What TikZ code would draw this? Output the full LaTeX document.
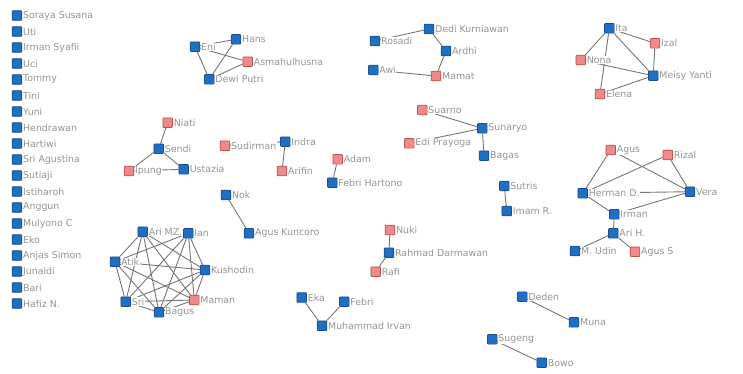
\documentclass[tikz,border=0pt]{standalone}
\usepackage{fontspec}
\setmainfont{DejaVu Sans}
\definecolor{nblue}{HTML}{1F6FC4}
\definecolor{nbluedk}{HTML}{1A4E8C}
\definecolor{npink}{HTML}{F08A8A}
\definecolor{npinkdk}{HTML}{B85252}
\definecolor{txtgray}{HTML}{949494}
\definecolor{edgegray}{HTML}{767676}
\pgfdeclarelayer{background}
\pgfsetlayers{background,main}
\tikzset{
  bnode/.style={rectangle, draw=nbluedk, fill=nblue, minimum size=9.6pt, inner sep=0pt, line width=0.7pt, rounded corners=0.8pt},
  pnode/.style={rectangle, draw=npinkdk, fill=npink, minimum size=9.6pt, inner sep=0pt, line width=0.7pt, rounded corners=0.8pt},
  lbl/.style={font=\fontsize{9.4}{10}\selectfont, text=txtgray, fill=white, inner sep=0.6pt, label distance=0.2pt},
  link/.style={draw=edgegray, line width=0.9pt},
}
% blue / pink member with its name to the right
\newcommand\bmem[3]{\node[bnode, label={[lbl]right:#3}] (#1) at (#2) {};}
\newcommand\pmem[3]{\node[pnode, label={[lbl]right:#3}] (#1) at (#2) {};}
\begin{document}
\begin{tikzpicture}[x=1pt, y=-1pt]
\useasboundingbox (0,0) rectangle (743,373);

% isolated members
\bmem{soraya}{17,15.5}{Soraya Susana}
\bmem{uti}{17,31.5}{Uti}
\bmem{irmans}{17,47.5}{Irman Syafii}
\bmem{uci}{17,63.5}{Uci}
\bmem{tommy}{17,79.5}{Tommy}
\bmem{tini}{17,95.5}{Tini}
\bmem{yuni}{17,111.5}{Yuni}
\bmem{hendrawan}{17,127.5}{Hendrawan}
\bmem{hartiwi}{17,143.5}{Hartiwi}
\bmem{sriag}{17,159.5}{Sri Agustina}
\bmem{sutiaji}{17,175.5}{Sutiaji}
\bmem{istiharoh}{17,191.5}{Istiharoh}
\bmem{anggun}{17,207.5}{Anggun}
\bmem{mulyono}{17,223.5}{Mulyono C}
\bmem{eko}{17,239.5}{Eko}
\bmem{anjas}{17,255.5}{Anjas Simon}
\bmem{junaidi}{17,271.5}{Junaidi}
\bmem{bari}{17,287.5}{Bari}
\bmem{hafiz}{17,303.5}{Hafiz N.}

% group: Eni
\bmem{eni}{195,46.7}{Eni}
\bmem{hans}{236,39.3}{Hans}
\pmem{asma}{247.7,61.7}{Asmahulhusna}
\bmem{dewi}{209.3,79.3}{Dewi Putri}

% group: Dedi
\bmem{dedi}{429,29}{Dedi Kurniawan}
\bmem{rosadi}{375,41}{Rosadi}
\bmem{ardhi}{446,51}{Ardhi}
\bmem{awi}{373.3,70}{Awi}
\pmem{mamat}{436,76}{Mamat}

% group: Ita
\bmem{ita}{609.3,28.3}{Ita}
\pmem{izal}{655,43.3}{Izal}
\pmem{nona}{580.7,60}{Nona}
\bmem{meisy}{653.3,75.7}{Meisy Yanti}
\pmem{elena}{600,94}{Elena}

% group: Sendi
\pmem{niati}{167.7,122.7}{Niati}
\bmem{sendi}{158.7,148.7}{Sendi}
\pmem{ipung}{129,171}{Ipung}
\bmem{ustazia}{183.7,169.3}{Ustazia}

% pairs and small groups
\pmem{sudirman}{225,145.7}{Sudirman}
\bmem{indra}{285.3,141.7}{Indra}
\pmem{arifin}{282,171}{Arifin}
\pmem{adam}{337.7,159.3}{Adam}
\bmem{febrih}{332.3,182.7}{Febri Hartono}
\bmem{nok}{226,195}{Nok}
\bmem{aguskun}{249,233.3}{Agus Kuncoro}

% group: Sunaryo
\pmem{suarno}{422.3,110}{Suarno}
\bmem{sunaryo}{482.3,128.3}{Sunaryo}
\pmem{edi}{409.3,143.3}{Edi Prayoga}
\bmem{bagas}{484,155.7}{Bagas}
\bmem{sutris}{504.3,186}{Sutris}
\bmem{imam}{506.7,211}{Imam R.}

% group: Vera
\pmem{agus}{610.7,150}{Agus}
\pmem{rizal}{667.7,155}{Rizal}
\bmem{herman}{582.7,193.3}{Herman D.}
\bmem{vera}{690,191.7}{Vera}
\bmem{irman}{614.3,214.3}{Irman}
\bmem{arih}{613.3,233.3}{Ari H.}
\bmem{mudin}{575,251}{M. Udin}
\pmem{aguss}{635,251.7}{Agus S}

% clique
\bmem{arimz}{142.7,231.7}{Ari MZ.}
\bmem{ian}{188.3,233.3}{Ian}
\bmem{atik}{115,261.7}{Atik}
\bmem{kushodin}{205,270}{Kushodin}
\bmem{sri}{125.7,301.7}{Sri}
\pmem{maman}{194.3,300}{Maman}
\bmem{bagus}{159,312.3}{Bagus}

% group: Rahmad
\pmem{nuki}{390,230}{Nuki}
\bmem{rahmad}{389,252.7}{Rahmad Darmawan}
\pmem{rafi}{375.7,271.7}{Rafi}

% group: Muhammad Irvan
\bmem{eka}{301.7,297.5}{Eka}
\bmem{febri}{344.3,301.7}{Febri}
\bmem{irvan}{322,325.7}{Muhammad Irvan}

% pairs at the bottom
\bmem{deden}{522.3,296.7}{Deden}
\bmem{muna}{574,322.3}{Muna}
\bmem{sugeng}{492.3,339.3}{Sugeng}
\bmem{bowo}{541.7,362.7}{Bowo}

\begin{pgfonlayer}{background}
\draw[link] (eni) -- (hans);
\draw[link] (eni) -- (asma);
\draw[link] (eni) -- (dewi);
\draw[link] (hans) -- (dewi);
\draw[link] (asma) -- (dewi);

\draw[link] (rosadi) -- (dedi);
\draw[link] (dedi) -- (ardhi);
\draw[link] (ardhi) -- (mamat);
\draw[link] (awi) -- (mamat);

\draw[link] (ita) -- (izal);
\draw[link] (ita) -- (nona);
\draw[link] (ita) -- (meisy);
\draw[link] (ita) -- (elena);
\draw[link] (nona) -- (meisy);
\draw[link] (izal) -- (meisy);
\draw[link] (elena) -- (meisy);

\draw[link] (niati) -- (sendi);
\draw[link] (sendi) -- (ipung);
\draw[link] (sendi) -- (ustazia);
\draw[link] (ipung) -- (ustazia);

\draw[link] (sudirman) -- (indra);
\draw[link] (indra) -- (arifin);
\draw[link] (adam) -- (febrih);
\draw[link] (nok) -- (aguskun);

\draw[link] (suarno) -- (sunaryo);
\draw[link] (edi) -- (sunaryo);
\draw[link] (sunaryo) -- (bagas);
\draw[link] (sutris) -- (imam);

\draw[link] (agus) -- (herman);
\draw[link] (agus) -- (vera);
\draw[link] (rizal) -- (herman);
\draw[link] (rizal) -- (vera);
\draw[link] (herman) -- (vera);
\draw[link] (herman) -- (irman);
\draw[link] (irman) -- (vera);
\draw[link] (irman) -- (arih);
\draw[link] (arih) -- (mudin);
\draw[link] (arih) -- (aguss);

\foreach \a/\b in {arimz/ian, arimz/atik, arimz/kushodin, arimz/sri, arimz/maman, arimz/bagus,
  ian/atik, ian/kushodin, ian/sri, ian/maman, ian/bagus,
  atik/kushodin, atik/sri, atik/maman, atik/bagus,
  kushodin/sri, kushodin/maman, kushodin/bagus,
  sri/maman, sri/bagus, maman/bagus}
  \draw[link] (\a) -- (\b);

\draw[link] (nuki) -- (rahmad);
\draw[link] (rahmad) -- (rafi);
\draw[link] (eka) -- (irvan);
\draw[link] (febri) -- (irvan);
\draw[link] (deden) -- (muna);
\draw[link] (sugeng) -- (bowo);
\end{pgfonlayer}
\end{tikzpicture}
\end{document}
